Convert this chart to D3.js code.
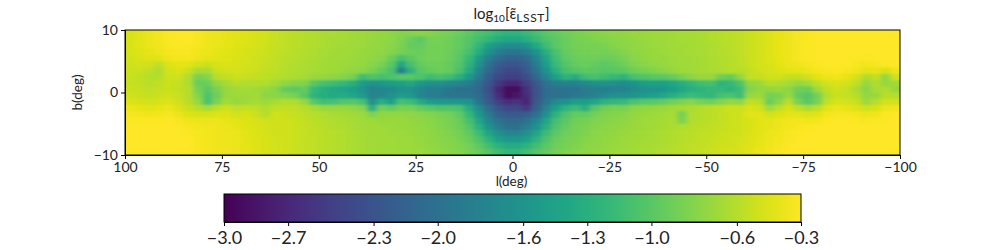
<!DOCTYPE html>
<html>
<head>
<meta charset="utf-8">
<script src="https://cdn.jsdelivr.net/npm/d3@7"></script>
<style>
  html, body { margin: 0; background: #fff; }
  text { font-family: Lato, "Open Sans", sans-serif; fill: #222; }
</style>
</head>
<body>
<svg id="chart" width="1000" height="250"></svg>
<script>
// log10 values, one list per 1 deg row of latitude, 2.5 deg per column (l = 100 -> -100)
const b_p9 = [
  -.46,-.42,-.38,-.35,-.32,-.31,-.31,-.33,-.36,-.38,-.40,-.42,-.44,-.46,-.50,-.53,-.56,-.58,-.60,-.62,
  -.64,-.65,-.66,-.68,-.70,-.72,-.74,-.76,-.80,-.80,-.78,-.80,-.84,-.88,-.92,-.98,-1.05,-1.12,-1.20,-1.25,
  -1.25,-1.18,-1.10,-1.00,-.95,-.90,-.85,-.82,-.80,-.78,-.76,-.75,-.72,-.72,-.70,-.70,-.68,-.66,-.66,-.64,
  -.62,-.60,-.58,-.56,-.52,-.48,-.44,-.40,-.37,-.34,-.32,-.31,-.30,-.30,-.30,-.30,-.30,-.30,-.30,-.30];
const b_p8 = [
  -.46,-.42,-.38,-.35,-.32,-.31,-.31,-.33,-.36,-.38,-.40,-.42,-.44,-.46,-.50,-.53,-.56,-.58,-.60,-.62,
  -.64,-.66,-.66,-.68,-.70,-.72,-.74,-.76,-.82,-.92,-.98,-.86,-.86,-.90,-.95,-1.02,-1.12,-1.22,-1.35,-1.42,
  -1.42,-1.30,-1.18,-1.05,-.98,-.92,-.88,-.84,-.82,-.80,-.78,-.76,-.74,-.72,-.70,-.70,-.68,-.66,-.66,-.64,
  -.62,-.60,-.58,-.56,-.52,-.48,-.44,-.40,-.37,-.34,-.32,-.31,-.30,-.30,-.30,-.30,-.30,-.30,-.30,-.30];
const b_p7 = [
  -.46,-.42,-.39,-.36,-.33,-.32,-.32,-.34,-.37,-.39,-.41,-.43,-.45,-.47,-.51,-.54,-.56,-.58,-.60,-.62,
  -.64,-.66,-.67,-.69,-.71,-.73,-.75,-.78,-.84,-.95,-.95,-.88,-.87,-.90,-.94,-1.04,-1.22,-1.45,-1.62,-1.70,
  -1.70,-1.58,-1.36,-1.14,-.98,-.92,-.88,-.85,-.85,-.84,-.80,-.77,-.75,-.73,-.71,-.70,-.68,-.67,-.66,-.65,
  -.63,-.61,-.59,-.56,-.52,-.48,-.44,-.40,-.37,-.34,-.32,-.31,-.30,-.30,-.30,-.30,-.30,-.30,-.30,-.30];
const b_p6 = [
  -.47,-.43,-.40,-.38,-.35,-.33,-.33,-.36,-.38,-.40,-.42,-.44,-.46,-.48,-.52,-.54,-.57,-.59,-.61,-.63,
  -.65,-.67,-.68,-.70,-.72,-.74,-.76,-.80,-.86,-.90,-.92,-.88,-.88,-.91,-.97,-1.10,-1.35,-1.65,-1.85,-1.95,
  -1.95,-1.85,-1.60,-1.30,-1.08,-.94,-.90,-.88,-.86,-.88,-.84,-.80,-.76,-.74,-.72,-.71,-.69,-.67,-.66,-.65,
  -.63,-.61,-.59,-.56,-.52,-.48,-.44,-.40,-.37,-.34,-.32,-.31,-.30,-.30,-.30,-.30,-.30,-.30,-.30,-.30];
const b_p5 = [
  -.48,-.45,-.43,-.42,-.37,-.35,-.35,-.38,-.40,-.42,-.43,-.45,-.47,-.49,-.53,-.55,-.58,-.60,-.62,-.64,
  -.66,-.68,-.69,-.71,-.73,-.75,-.78,-.92,-1.10,-.98,-.90,-.88,-.88,-.92,-1.00,-1.18,-1.50,-1.85,-2.05,-2.15,
  -2.15,-2.05,-1.75,-1.42,-1.12,-.97,-.92,-.90,-.90,-.92,-.90,-.85,-.78,-.75,-.73,-.72,-.70,-.68,-.67,-.66,
  -.64,-.62,-.60,-.57,-.52,-.48,-.44,-.40,-.37,-.34,-.32,-.31,-.30,-.30,-.30,-.30,-.32,-.30,-.30,-.30];
const b_p4 = [
  -.50,-.48,-.50,-.56,-.44,-.40,-.42,-.48,-.52,-.46,-.45,-.46,-.48,-.50,-.54,-.56,-.59,-.61,-.63,-.65,
  -.67,-.69,-.70,-.72,-.74,-.78,-.85,-1.00,-1.40,-1.10,-.95,-.90,-.90,-.94,-1.02,-1.25,-1.62,-2.00,-2.20,-2.30,
  -2.30,-2.15,-1.85,-1.50,-1.18,-1.02,-.95,-.92,-.95,-.98,-.95,-.90,-.82,-.78,-.75,-.73,-.71,-.69,-.67,-.66,
  -.64,-.62,-.60,-.57,-.52,-.48,-.45,-.42,-.38,-.36,-.34,-.32,-.31,-.30,-.31,-.33,-.36,-.34,-.32,-.30];
const b_p3 = [
  -.52,-.52,-.56,-.62,-.48,-.45,-.52,-.65,-.65,-.52,-.48,-.48,-.50,-.52,-.55,-.57,-.60,-.62,-.64,-.66,
  -.68,-.70,-.72,-.74,-.78,-.85,-.95,-1.08,-1.85,-1.25,-1.00,-.94,-.92,-.94,-1.08,-1.35,-1.75,-2.10,-2.30,-2.40,
  -2.40,-2.25,-1.95,-1.60,-1.28,-1.10,-1.02,-.98,-.98,-1.02,-1.00,-.98,-.90,-.85,-.82,-.78,-.74,-.70,-.68,-.66,
  -.65,-.63,-.60,-.60,-.55,-.50,-.47,-.44,-.42,-.40,-.38,-.35,-.33,-.32,-.34,-.36,-.42,-.40,-.46,-.38];
const b_p2 = [
  -.52,-.55,-.60,-.60,-.50,-.50,-.62,-.85,-.80,-.60,-.55,-.52,-.54,-.55,-.57,-.60,-.62,-.64,-.66,-.72,
  -.74,-.76,-.80,-.88,-1.15,-1.05,-1.10,-1.05,-1.00,-1.00,-1.05,-1.15,-1.10,-1.15,-1.30,-1.55,-1.90,-2.20,-2.40,-2.50,
  -2.50,-2.35,-2.10,-1.75,-1.45,-1.25,-1.35,-1.15,-1.10,-1.15,-1.20,-1.25,-1.10,-1.05,-1.00,-1.00,-.95,-.85,-.78,-.72,
  -.72,-.90,-.95,-.75,-.55,-.55,-.50,-.50,-.55,-.55,-.50,-.42,-.38,-.36,-.40,-.48,-.62,-.55,-.75,-.50];
const b_p1 = [
  -.54,-.55,-.58,-.56,-.52,-.54,-.62,-.92,-.92,-.74,-.66,-.60,-.62,-.62,-.62,-.68,-.75,-.80,-.82,-1.00,
  -1.10,-1.15,-1.20,-1.30,-1.50,-1.62,-1.55,-1.50,-1.45,-1.40,-1.55,-1.65,-1.65,-1.72,-1.78,-1.85,-2.05,-2.30,-2.55,-2.70,
  -2.70,-2.50,-2.25,-2.00,-1.85,-1.80,-1.80,-1.72,-1.65,-1.65,-1.65,-1.70,-1.60,-1.50,-1.45,-1.45,-1.40,-1.30,-1.22,-1.12,
  -1.10,-1.25,-1.20,-1.05,-.75,-.72,-.60,-.62,-.66,-.72,-.68,-.56,-.48,-.45,-.48,-.56,-.72,-.62,-.72,-.68];
const b_p0 = [
  -.52,-.54,-.56,-.54,-.52,-.55,-.60,-.85,-.98,-.84,-.72,-.68,-.66,-.68,-.72,-.78,-.95,-.98,-.95,-1.20,
  -1.30,-1.38,-1.42,-1.45,-1.62,-1.80,-1.78,-1.72,-1.65,-1.62,-1.78,-1.85,-1.85,-1.95,-2.00,-2.00,-2.10,-2.35,-2.70,-2.95,
  -2.90,-2.60,-2.30,-2.05,-2.00,-2.00,-1.95,-1.90,-1.85,-1.85,-1.80,-1.80,-1.72,-1.65,-1.62,-1.58,-1.50,-1.40,-1.30,-1.25,
  -1.20,-1.20,-1.25,-1.15,-.80,-.74,-.75,-.72,-.76,-.90,-.92,-.70,-.55,-.50,-.54,-.64,-.78,-.65,-.62,-.72];
const b_m0 = [
  -.50,-.52,-.54,-.52,-.50,-.53,-.60,-.80,-1.05,-.90,-.72,-.70,-.70,-.68,-.76,-.78,-.80,-.84,-1.00,-1.25,
  -1.32,-1.36,-1.35,-1.40,-1.50,-1.78,-1.72,-1.65,-1.48,-1.55,-1.75,-1.85,-1.90,-1.95,-1.95,-1.95,-2.05,-2.30,-2.65,-2.90,
  -2.85,-2.65,-2.30,-2.05,-2.00,-1.98,-1.92,-1.85,-1.80,-1.72,-1.65,-1.65,-1.58,-1.52,-1.45,-1.40,-1.30,-1.22,-1.15,-1.20,
  -1.22,-1.10,-1.05,-1.15,-.72,-.70,-.88,-.84,-.72,-.95,-1.02,-.88,-.60,-.52,-.54,-.60,-.74,-.72,-.58,-.60];
const b_m1 = [
  -.44,-.46,-.48,-.46,-.44,-.50,-.58,-.72,-1.08,-.82,-.66,-.72,-.68,-.66,-.70,-.64,-.62,-.62,-.72,-1.00,
  -1.12,-1.10,-1.02,-1.00,-1.10,-1.62,-1.30,-1.45,-1.10,-1.15,-1.35,-1.50,-1.55,-1.55,-1.55,-1.60,-1.95,-2.25,-2.50,-2.65,
  -2.60,-2.70,-2.25,-1.95,-1.70,-1.60,-1.50,-1.48,-1.40,-1.25,-1.20,-1.18,-1.05,-1.00,-.98,-.95,-.88,-.82,-.78,-.85,
  -.88,-.80,-.72,-.75,-.55,-.58,-.92,-.76,-.58,-.85,-.98,-.84,-.54,-.45,-.48,-.52,-.70,-.60,-.48,-.48];
const b_m2 = [
  -.38,-.40,-.42,-.40,-.38,-.44,-.52,-.58,-.66,-.55,-.50,-.56,-.54,-.56,-.62,-.56,-.55,-.56,-.60,-.65,
  -.72,-.72,-.72,-.74,-.80,-1.30,-.88,-.95,-.85,-.86,-.95,-1.00,-1.05,-1.05,-1.08,-1.35,-1.70,-2.05,-2.30,-2.40,
  -2.40,-2.55,-2.15,-1.80,-1.45,-1.25,-1.15,-1.30,-1.00,-.90,-.85,-.85,-.78,-.75,-.74,-.72,-.68,-.66,-.64,-.60,
  -.58,-.55,-.52,-.52,-.45,-.48,-.68,-.56,-.46,-.56,-.64,-.56,-.42,-.38,-.40,-.44,-.50,-.46,-.38,-.36];
const b_m3 = [
  -.34,-.35,-.36,-.35,-.33,-.38,-.44,-.46,-.46,-.44,-.44,-.48,-.46,-.52,-.60,-.50,-.52,-.54,-.56,-.60,
  -.62,-.65,-.66,-.68,-.70,-.82,-.75,-.74,-.74,-.76,-.78,-.80,-.84,-.88,-.96,-1.20,-1.55,-1.90,-2.15,-2.25,
  -2.25,-2.20,-2.00,-1.65,-1.25,-1.05,-.95,-.95,-.88,-.82,-.80,-.78,-.74,-.72,-.70,-.68,-.65,-.88,-.62,-.60,
  -.58,-.55,-.52,-.50,-.42,-.42,-.48,-.44,-.40,-.42,-.44,-.42,-.35,-.33,-.33,-.35,-.38,-.36,-.32,-.31];
const b_m4 = [
  -.32,-.32,-.32,-.32,-.31,-.33,-.36,-.38,-.38,-.38,-.40,-.42,-.44,-.46,-.50,-.50,-.50,-.52,-.55,-.58,
  -.60,-.62,-.64,-.66,-.68,-.70,-.72,-.72,-.72,-.74,-.76,-.78,-.82,-.85,-.92,-1.10,-1.40,-1.75,-2.00,-2.10,
  -2.10,-2.00,-1.75,-1.42,-1.12,-.98,-.90,-.86,-.82,-.80,-.78,-.76,-.72,-.70,-.68,-.66,-.64,-.82,-.62,-.60,
  -.58,-.55,-.52,-.50,-.46,-.42,-.40,-.38,-.36,-.35,-.36,-.35,-.32,-.31,-.31,-.32,-.33,-.32,-.31,-.30];
const b_m5 = [
  -.31,-.31,-.31,-.31,-.30,-.31,-.33,-.35,-.36,-.36,-.38,-.40,-.43,-.45,-.48,-.50,-.50,-.52,-.54,-.57,
  -.59,-.61,-.63,-.65,-.67,-.69,-.70,-.71,-.72,-.73,-.75,-.77,-.80,-.84,-.90,-1.02,-1.28,-1.60,-1.85,-1.98,
  -1.98,-1.85,-1.60,-1.30,-1.05,-.94,-.88,-.84,-.80,-.78,-.76,-.74,-.72,-.70,-.68,-.66,-.64,-.62,-.60,-.58,
  -.56,-.54,-.52,-.50,-.46,-.42,-.40,-.38,-.35,-.33,-.32,-.31,-.30,-.30,-.30,-.30,-.31,-.30,-.30,-.30];
const b_m6 = [
  -.30,-.30,-.30,-.30,-.30,-.30,-.32,-.34,-.35,-.36,-.37,-.39,-.42,-.44,-.47,-.49,-.50,-.52,-.54,-.56,
  -.58,-.60,-.62,-.64,-.66,-.68,-.69,-.70,-.71,-.72,-.74,-.76,-.79,-.82,-.87,-.96,-1.15,-1.42,-1.65,-1.78,
  -1.78,-1.65,-1.42,-1.15,-.98,-.90,-.86,-.82,-.78,-.76,-.74,-.72,-.70,-.68,-.66,-.64,-.62,-.60,-.58,-.56,
  -.55,-.53,-.51,-.49,-.45,-.42,-.39,-.36,-.33,-.32,-.31,-.30,-.30,-.30,-.30,-.30,-.30,-.30,-.30,-.30];
const b_m7 = [
  -.30,-.30,-.30,-.30,-.30,-.30,-.31,-.33,-.35,-.36,-.37,-.39,-.41,-.43,-.46,-.48,-.50,-.52,-.54,-.56,
  -.58,-.60,-.62,-.64,-.66,-.67,-.68,-.69,-.70,-.71,-.73,-.75,-.78,-.80,-.84,-.92,-1.05,-1.25,-1.45,-1.55,
  -1.55,-1.45,-1.25,-1.05,-.93,-.88,-.84,-.80,-.77,-.75,-.73,-.71,-.69,-.67,-.66,-.64,-.62,-.60,-.58,-.56,
  -.54,-.52,-.50,-.48,-.44,-.41,-.38,-.35,-.33,-.31,-.30,-.30,-.30,-.30,-.30,-.30,-.30,-.30,-.30,-.30];
const b_m8 = [
  -.30,-.30,-.30,-.30,-.30,-.30,-.31,-.33,-.35,-.36,-.37,-.39,-.41,-.43,-.46,-.48,-.50,-.52,-.54,-.56,
  -.58,-.60,-.62,-.64,-.66,-.67,-.68,-.69,-.70,-.71,-.72,-.74,-.77,-.79,-.82,-.88,-.97,-1.12,-1.27,-1.35,
  -1.35,-1.27,-1.12,-.98,-.90,-.85,-.82,-.78,-.76,-.74,-.72,-.70,-.68,-.66,-.65,-.63,-.61,-.59,-.57,-.55,
  -.53,-.51,-.49,-.47,-.43,-.40,-.37,-.34,-.32,-.31,-.30,-.30,-.30,-.30,-.30,-.30,-.30,-.30,-.30,-.30];
const b_m9 = [
  -.31,-.31,-.30,-.30,-.30,-.30,-.31,-.33,-.35,-.36,-.37,-.39,-.41,-.43,-.46,-.48,-.50,-.52,-.54,-.56,
  -.58,-.60,-.62,-.64,-.66,-.67,-.68,-.69,-.70,-.70,-.71,-.73,-.75,-.78,-.80,-.85,-.92,-1.02,-1.12,-1.20,
  -1.20,-1.12,-1.02,-.94,-.86,-.82,-.79,-.76,-.74,-.72,-.70,-.68,-.67,-.65,-.64,-.62,-.60,-.58,-.56,-.54,
  -.52,-.50,-.48,-.46,-.42,-.39,-.36,-.33,-.32,-.31,-.30,-.30,-.30,-.30,-.30,-.30,-.30,-.30,-.30,-.30];

const rows = [b_p9,b_p8,b_p7,b_p6,b_p5,b_p4,b_p3,b_p2,b_p1,b_p0,b_m0,b_m1,b_m2,b_m3,b_m4,b_m5,b_m6,b_m7,b_m8,b_m9];
const xTicks = [100, 75, 50, 25, 0, -25, -50, -75, -100];
const yTicks = [10, 0, -10];
const cbarTicks = [-3.0, -2.7, -2.3, -2.0, -1.6, -1.3, -1.0, -0.6, -0.3];

const svg = d3.select("#chart");
const margin = {top: 30, right: 100, bottom: 95, left: 125};
const width = 1000 - margin.left - margin.right;
const height = 250 - margin.top - margin.bottom;

const x = d3.scaleLinear().domain([100, -100]).range([0, width]);
const y = d3.scaleLinear().domain([-10, 10]).range([height, 0]);
const color = d3.scaleSequential(d3.interpolateViridis).domain([-3, -0.3]);

const colScale = d3.scaleBand().domain(d3.range(rows[0].length)).range([0, width]);
const rowScale = d3.scaleBand().domain(d3.range(rows.length)).range([0, height]);

const defs = svg.append("defs");
defs.append("filter").attr("id", "soft")
    .attr("x", "-2%").attr("y", "-5%").attr("width", "104%").attr("height", "110%")
  .append("feGaussianBlur").attr("stdDeviation", "2.6 1.2");
defs.append("clipPath").attr("id", "plotClip")
  .append("rect").attr("width", width).attr("height", height);

const g = svg.append("g").attr("transform", "translate(" + margin.left + "," + margin.top + ")");

function drawCells(parent) {
  parent.selectAll("g")
      .data(rows)
    .enter().append("g")
      .attr("transform", (d, i) => "translate(0," + rowScale(i) + ")")
    .selectAll("rect")
      .data(d => d)
    .enter().append("rect")
      .attr("x", (d, i) => colScale(i))
      .attr("width", colScale.bandwidth() + 0.5)
      .attr("height", rowScale.bandwidth() + 0.5)
      .attr("fill", d => color(d));
}

// flat copy underneath so the blur does not fade out at the frame
const map = g.append("g").attr("clip-path", "url(#plotClip)");
drawCells(map.append("g"));
drawCells(map.append("g").attr("filter", "url(#soft)"));

g.append("rect")
    .attr("width", width).attr("height", height)
    .attr("fill", "none").attr("stroke", "#000").attr("stroke-width", 1);

const xAxis = g.append("g")
    .attr("transform", "translate(0," + height + ")")
    .call(d3.axisBottom(x).tickValues(xTicks).tickSize(4).tickFormat(d3.format("d")));
const yAxis = g.append("g")
    .call(d3.axisLeft(y).tickValues(yTicks).tickSize(4).tickFormat(d3.format("d")));

[xAxis, yAxis].forEach(a => {
  a.selectAll("path").attr("stroke", "#000");
  a.selectAll("line").attr("stroke", "#000");
  a.selectAll("text").style("font-size", "14px");
});

g.append("text").attr("x", width / 2 - 1).attr("y", height + 31)
    .attr("text-anchor", "middle").style("font-size", "13.5px").text("l(deg)");
g.append("text").attr("transform", "translate(-43," + (height / 2) + ") rotate(-90)")
    .attr("text-anchor", "middle").style("font-size", "13.5px").text("b(deg)");

const title = g.append("text").attr("x", width / 2 - 1).attr("y", -11)
    .attr("text-anchor", "middle").style("font-size", "15px");
title.append("tspan").text("log");
title.append("tspan").attr("dy", 3).style("font-size", "10px").text("10");
title.append("tspan").attr("dy", -3).text("[\u03b5\u0303");
title.append("tspan").attr("dy", 3).style("font-size", "12px").style("letter-spacing", "0.6px").text("LSST");
title.append("tspan").attr("dy", -3).text("]");

// colour bar
const cbar = svg.append("g").attr("transform", "translate(224,194)");
const cbarWidth = 577, cbarHeight = 28;
const cx = d3.scaleLinear().domain([-3, -0.3]).range([0, cbarWidth]);

const grad = defs.append("linearGradient").attr("id", "cbarFill");
grad.selectAll("stop")
    .data(d3.range(-3, -0.29, 0.1))
  .enter().append("stop")
    .attr("offset", d => cx(d) / cbarWidth)
    .attr("stop-color", d => color(d));

cbar.append("rect")
    .attr("width", cbarWidth).attr("height", cbarHeight)
    .attr("fill", "url(#cbarFill)").attr("stroke", "#000");

const cAxis = cbar.append("g")
    .attr("transform", "translate(0," + cbarHeight + ")")
    .call(d3.axisBottom(cx).tickValues(cbarTicks).tickSize(4).tickFormat(d3.format(".1f")));
cAxis.selectAll("path").attr("stroke", "#000");
cAxis.selectAll("line").attr("stroke", "#000");
cAxis.selectAll("text").style("font-size", "18px").attr("dy", "0.82em");
</script>
</body>
</html>
